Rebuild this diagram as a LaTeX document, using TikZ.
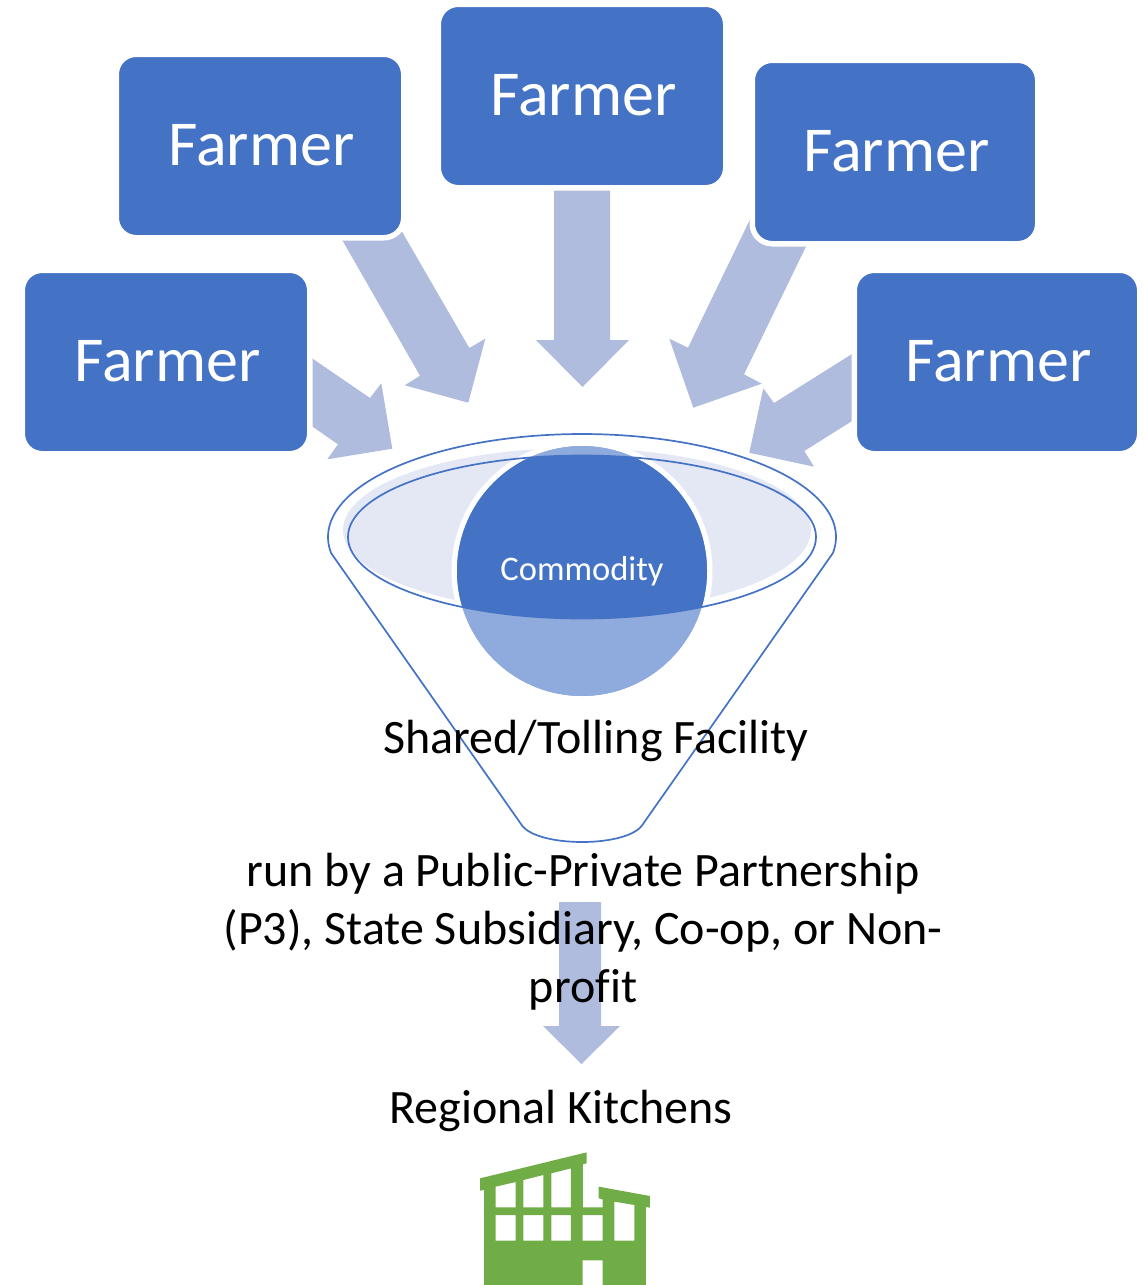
\documentclass[tikz,border=0pt]{standalone}
\usepackage{fontspec}
\setmainfont{Carlito}[Ligatures=NoCommon]
\definecolor{fblue}{HTML}{4472C4}
\definecolor{farrow}{HTML}{AFBCDD}
\definecolor{flight}{HTML}{E3E8F4}
\definecolor{fmid}{HTML}{8FAADC}
\definecolor{fgreen}{HTML}{70AD47}
\newcommand{\farmerlabel}{\hspace*{3pt}\raisebox{3pt}{Farmer}}
\tikzset{
  farmerbox/.style={rectangle,rounded corners=20pt,fill=fblue,draw=white,line width=5.5pt,
    minimum width=287.5pt,minimum height=183.5pt,inner sep=0pt,text=white,
    font=\fontsize{64}{64}\selectfont},
  blockarrow/.style={fill=farrow,draw=none},
  fstroke/.style={draw=fblue,line width=1.7pt,line join=round},
  caption/.style={anchor=base,text=black,inner sep=0pt,font=\fontsize{48}{48}\selectfont},
}
\begin{document}
\begin{tikzpicture}[x=1pt,y=-1pt]
\useasboundingbox (0,0) rectangle (1148,1285);
\clip (0,0) rectangle (1148,1285);
% block arrows (their tails run behind the boxes' white outlines)
\fill[blockarrow] (300,350) -- (370,398) -- (381.3,383.3) -- (392.3,448.7) -- (327.3,459.3) -- (338,444.3) -- (300,418) -- cycle;
\fill[blockarrow] (333,224) -- (397,223) -- (469.3,348) -- (485.3,338.7) -- (468.3,402.7) -- (404.7,385.3) -- (420,375.7) -- cycle;
\fill[blockarrow] (554,180) -- (610,180) -- (610,340) -- (629,340) -- (582.5,387) -- (536,340) -- (554,340) -- cycle;
\fill[blockarrow] (757,205) -- (815,228) -- (744,374.3) -- (761.7,383.7) -- (693.3,407.7) -- (669.3,338.7) -- (688,347.7) -- cycle;
\fill[blockarrow] (860,349) -- (774,403) -- (763.3,388.3) -- (749.3,452.7) -- (814,466.7) -- (804.3,451) -- (860,416) -- cycle;
% farmers
\node[farmerbox] (f1) at (166,362) {\farmerlabel};
\node[farmerbox] (f2) at (260,146) {\farmerlabel};
\node[farmerbox] (f3) at (582,96) {\farmerlabel};
\node[farmerbox,minimum width=285.5pt] (f4) at (895,152) {\farmerlabel};
\node[farmerbox,minimum width=285.5pt] (f5) at (997,362) {\farmerlabel};
% funnel
\fill[flight] (577,530) ellipse [x radius=234pt,y radius=82pt];
\draw[fstroke] plot[domain=171:369,samples=120] ({582+254*cos(\x)},{537+103*sin(\x)})
  -- (643,824) .. controls (629,848) and (535,848) .. (521,824) -- cycle;
\node[circle,fill=fmid,draw=white,line width=5.5pt,minimum size=255.5pt,inner sep=0pt] (core) at (582,571) {};
\fill[fmid] (582,571) circle [radius=125pt];
\begin{scope}
  \clip (582,537) ellipse [x radius=234pt,y radius=81.5pt];
  \fill[fblue] (582,571) circle [radius=125pt];
\end{scope}
\draw[fstroke] (582,537) ellipse [x radius=234pt,y radius=81.5pt];
\node[text=white,inner sep=0pt,font=\fontsize{34.5}{34.5}\selectfont] (commodity) at (582,571) {Commodity};
% output arrow
\fill[blockarrow] (559,902) -- (601,902) -- (601,1026) -- (620,1026) -- (581.5,1064) -- (543,1026) -- (559,1026) -- cycle;
% captions
\node[caption] (t1) at (596,753) {Shared/Tolling Facility};
\node[caption] (t2) at (583,886) {run by a Public-Private Partnership};
\node[caption] (t3) at (583,944) {(P3), State Subsidiary, Co-op, or Non-};
\node[caption] (t4) at (583,1002) {profit};
\node[caption] (t5) at (561,1123) {Regional Kitchens};
% building
\begin{scope}[shift={(460,1140)},x=0.3333pt,y=-0.3333pt]
\fill[fgreen,even odd rule]
  (60,115) -- (380,37) -- (380,70) -- (369,73) -- (369,202) -- (428,202) -- (428,178) -- (416,175) -- (416,140) -- (570,168) -- (570,203) -- (558,201) -- (558,435) -- (428,435) -- (428,361) -- (368,361) -- (368,435) -- (72,435) -- (72,150) -- (60,152) -- cycle
  (107,140) -- (167,126) -- (167,202) -- (107,202) -- cycle
  (190,120) -- (250,105) -- (250,202) -- (190,202) -- cycle
  (274,100) -- (333,85) -- (333,202) -- (274,202) -- cycle
  (107,225) rectangle (167,302)
  (190,225) rectangle (250,302)
  (274,225) rectangle (333,302)
  (368,225) rectangle (428,302)
  (463,185) -- (523,195) -- (523,302) -- (463,302) -- cycle;
\end{scope}
\end{tikzpicture}
\end{document}
